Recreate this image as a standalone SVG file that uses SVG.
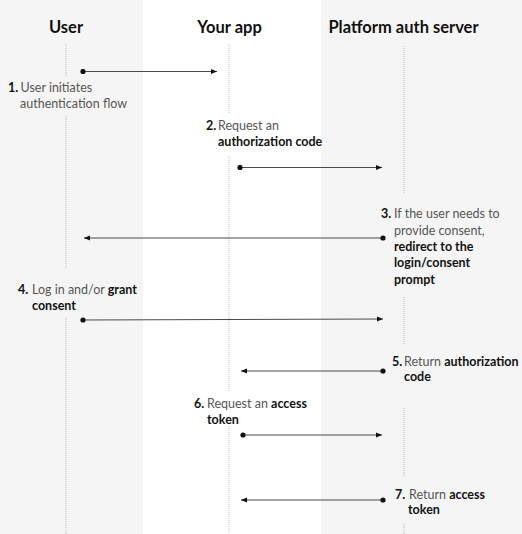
<svg xmlns="http://www.w3.org/2000/svg" width="522" height="534" viewBox="0 0 522 534">
<style>
.hdr{font-family:Lato,"Liberation Sans",sans-serif;font-weight:700;font-size:16.5px;fill:#111;text-anchor:middle}
.lbl{font-family:Lato,"Liberation Sans",sans-serif;font-size:12.5px;fill:#555}
.b{font-weight:700;fill:#111}
.life{stroke:#bdbdbd;stroke-width:1;stroke-dasharray:1 1;fill:none}
.msg{stroke:#4a4a4a;stroke-width:1;fill:none;marker-start:url(#dot);marker-end:url(#arr)}
</style>
<defs>
<marker id="arr" markerUnits="userSpaceOnUse" markerWidth="7" markerHeight="6" refX="6" refY="3" orient="auto">
<path d="M0,0.5 L6,3 L0,5.5 z" fill="#111"/>
</marker>
<marker id="dot" markerUnits="userSpaceOnUse" markerWidth="6" markerHeight="6" refX="3" refY="3">
<circle cx="3" cy="3" r="2.6" fill="#111"/>
</marker>
</defs>
<rect x="0" y="0" width="522" height="534" fill="#ffffff"/>
<rect x="0" y="0" width="143" height="534" fill="#f5f5f5"/>
<rect x="321" y="0" width="201" height="534" fill="#f5f5f5"/>

<g id="user">
<text class="hdr" x="66" y="33">User</text>
<line class="life" x1="66" y1="44" x2="66" y2="77"/>
<line class="life" x1="66" y1="115" x2="66" y2="268"/>
<line class="life" x1="66" y1="317" x2="66" y2="534"/>
</g>
<g id="app">
<text class="hdr" x="229.5" y="33">Your app</text>
<line class="life" x1="229" y1="44" x2="229" y2="113"/>
<line class="life" x1="229" y1="156" x2="229" y2="392"/>
<line class="life" x1="229" y1="426" x2="229" y2="534"/>
</g>
<g id="server">
<text class="hdr" x="403.5" y="33">Platform auth server</text>
<line class="life" x1="404" y1="46" x2="404" y2="194"/>
<line class="life" x1="404" y1="297" x2="404" y2="345"/>
<line class="life" x1="404" y1="408" x2="404" y2="478"/>
<line class="life" x1="404" y1="523" x2="404" y2="534"/>
</g>

<g id="connectors">
<line class="msg" x1="83" y1="71.5" x2="217" y2="71.5"/>
<line class="msg" x1="240" y1="167.5" x2="382" y2="167.5"/>
<line class="msg" x1="383" y1="238" x2="84" y2="238"/>
<line class="msg" x1="83" y1="320" x2="383" y2="319"/>
<line class="msg" x1="383" y1="371" x2="241" y2="371"/>
<line class="msg" x1="243" y1="435" x2="382" y2="435"/>
<line class="msg" x1="383" y1="500" x2="241" y2="500"/>
</g>

<g id="labels">
<text class="lbl" y="92"><tspan class="b" x="8">1.</tspan><tspan x="20.5">User initiates</tspan></text>
<text class="lbl" x="20" y="108">authentication flow</text>

<text class="lbl" y="130"><tspan class="b" x="206">2.</tspan><tspan x="218">Request an</tspan></text>
<text class="lbl b" x="218" y="146">authorization code</text>

<text class="lbl" y="218"><tspan class="b" x="381">3.</tspan><tspan x="394">If the user needs to</tspan></text>
<text class="lbl" x="394" y="234.5">provide consent,</text>
<text class="lbl b" x="394" y="251">redirect to the</text>
<text class="lbl b" x="394" y="267">login/consent</text>
<text class="lbl b" x="394" y="283.5">prompt</text>

<text class="lbl" y="294"><tspan class="b" x="18">4.</tspan><tspan x="32">Log in and/or </tspan><tspan class="b">grant</tspan></text>
<text class="lbl b" x="32" y="310">consent</text>

<text class="lbl" y="366"><tspan class="b" x="392">5.</tspan><tspan x="404">Return </tspan><tspan class="b">authorization</tspan></text>
<text class="lbl b" x="404" y="381">code</text>

<text class="lbl" y="408"><tspan class="b" x="194">6.</tspan><tspan x="207">Request an </tspan><tspan class="b">access</tspan></text>
<text class="lbl b" x="207" y="424">token</text>

<text class="lbl" y="499"><tspan class="b" x="395">7.</tspan><tspan x="409">Return </tspan><tspan class="b">access</tspan></text>
<text class="lbl b" x="408" y="514">token</text>
</g>
</svg>
